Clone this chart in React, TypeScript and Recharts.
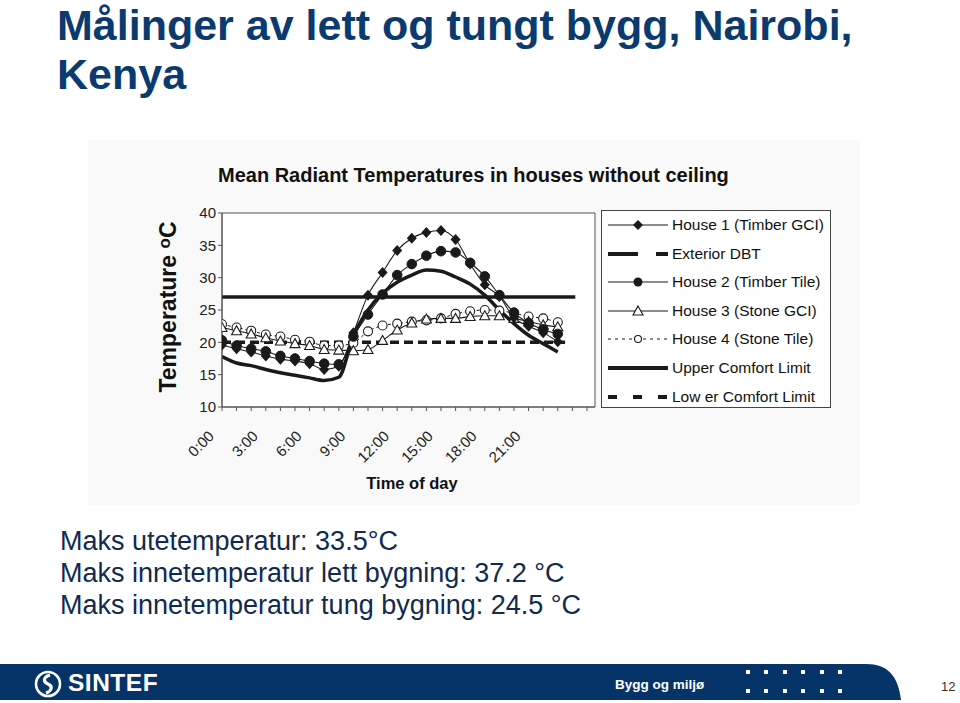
import React from 'react';
import { LineChart, Line, XAxis, YAxis, ReferenceArea } from 'recharts';

// hourly readings, 0:00 .. 23:00
const hours = [0, 1, 2, 3, 4, 5, 6, 7, 8, 9, 10, 11, 12, 13, 14, 15, 16, 17, 18, 19, 20, 21, 22, 23];
const house1 = [19.6, 19.0, 18.5, 17.9, 17.4, 17.1, 16.7, 15.8, 16.3, 21.5, 27.3, 30.8, 34.2, 36.1, 37.0, 37.3, 35.9, 32.1, 28.9, 27.1, 23.8, 22.5, 21.5, 20.1];
const house2 = [20.3, 19.5, 19.0, 18.6, 17.9, 17.5, 17.1, 16.7, 16.6, 20.9, 24.3, 27.4, 30.4, 32.1, 33.4, 34.1, 33.9, 32.3, 30.2, 27.3, 24.6, 23.0, 22.0, 21.3];
const house3 = [22.3, 21.8, 21.3, 20.7, 20.2, 19.8, 19.5, 18.9, 18.8, 18.7, 18.9, 20.3, 21.9, 23.0, 23.6, 23.7, 23.7, 24.0, 24.1, 24.1, 23.7, 23.2, 22.7, 22.4];
const house4 = [22.8, 22.3, 21.8, 21.2, 20.9, 20.4, 20.1, 19.5, 19.5, 19.9, 21.7, 22.6, 22.9, 23.2, 23.4, 23.7, 24.4, 24.8, 25.0, 24.9, 24.5, 24.0, 23.7, 23.1];
const exterior = [17.8, 16.8, 16.4, 15.8, 15.3, 14.9, 14.5, 14.1, 14.6, 21.0, 25.0, 27.6, 29.3, 30.4, 31.2, 31.0, 30.1, 29.0, 27.3, 25.0, 22.9, 21.1, 19.8, 18.5];

// comfort limits
const upperHours = [0, 24.2];
const upperValues = [27, 27];
const lowerHours = [0, 23.5];
const lowerValues = [20, 20];

const xTickHours = [0, 1, 2, 3, 4, 5, 6, 7, 8, 9, 10, 11, 12, 13, 14, 15, 16, 17, 18, 19, 20, 21, 22, 23, 24, 25];
const xLabelHours = [0, 3, 6, 9, 12, 15, 18, 21];
const xLabels = ['0:00', '3:00', '6:00', '9:00', '12:00', '15:00', '18:00', '21:00'];
const yTicks = [10, 15, 20, 25, 30, 35, 40];

const legendItems = [
  'House 1 (Timber GCI)',
  'Exterior DBT',
  'House 2 (Timber Tile)',
  'House 3 (Stone GCI)',
  'House 4 (Stone Tile)',
  'Upper Comfort Limit',
  'Low er Comfort Limit',
];

const data = hours.map((t, i) => ({
  t,
  h1: house1[i],
  h2: house2[i],
  h3: house3[i],
  h4: house4[i],
  ext: exterior[i],
}));
const upperData = upperHours.map((t, i) => ({ t, v: upperValues[i] }));
const lowerData = lowerHours.map((t, i) => ({ t, v: lowerValues[i] }));

const FONT = '"Liberation Sans", Arial, Helvetica, sans-serif';
const INK = '#1a1a1a';
const NAVY = '#0b3a6e';

const Diamond = (props: any) => {
  const { cx, cy, index } = props;
  if (cx == null || cy == null) return <g key={`d${index}`} />;
  return (
    <path
      key={`d${index}`}
      d={`M${cx},${cy - 5.5}L${cx + 5},${cy}L${cx},${cy + 5.5}L${cx - 5},${cy}Z`}
      fill={INK}
    />
  );
};

const Triangle = (props: any) => {
  const { cx, cy, index } = props;
  if (cx == null || cy == null) return <g key={`t${index}`} />;
  return (
    <path
      key={`t${index}`}
      d={`M${cx},${cy - 5}L${cx + 5},${cy + 4}L${cx - 5},${cy + 4}Z`}
      fill="#fff"
      stroke={INK}
      strokeWidth={1.1}
    />
  );
};

const XTick = (props: any) => {
  const { x, y, payload } = props;
  const idx = xLabelHours.indexOf(payload.value);
  if (idx < 0) return <g />;
  const px = x - 7;
  const py = y + 24;
  return (
    <text
      x={px}
      y={py}
      transform={`rotate(-45 ${px} ${py})`}
      textAnchor="end"
      fill="#222"
      fontSize={15}
      fontFamily={FONT}
    >
      {xLabels[idx]}
    </text>
  );
};

const LegendSample = ({ i }: { i: number }) => {
  const y = 8;
  return (
    <svg width={64} height={16} style={{ display: 'block' }}>
      {i === 0 && (
        <>
          <line x1={2} x2={62} y1={y} y2={y} stroke={INK} strokeWidth={1.2} />
          <path d={`M32,${y - 5}L37,${y}L32,${y + 5}L27,${y}Z`} fill={INK} />
        </>
      )}
      {i === 1 && (
        <>
          <line x1={2} x2={32} y1={y} y2={y} stroke={INK} strokeWidth={4} />
          <line x1={50} x2={62} y1={y} y2={y} stroke={INK} strokeWidth={4} />
        </>
      )}
      {i === 2 && (
        <>
          <line x1={2} x2={62} y1={y} y2={y} stroke={INK} strokeWidth={1.2} />
          <circle cx={32} cy={y} r={4.5} fill={INK} />
        </>
      )}
      {i === 3 && (
        <>
          <line x1={2} x2={62} y1={y} y2={y} stroke={INK} strokeWidth={1.2} />
          <path d={`M32,${y - 5}L37,${y + 4}L27,${y + 4}Z`} fill="#fff" stroke={INK} strokeWidth={1.1} />
        </>
      )}
      {i === 4 && (
        <>
          <line x1={2} x2={62} y1={y} y2={y} stroke={INK} strokeWidth={1} strokeDasharray="3 4" />
          <circle cx={32} cy={y} r={3.5} fill="#fff" stroke={INK} strokeWidth={1.1} />
        </>
      )}
      {i === 5 && <line x1={2} x2={62} y1={y} y2={y} stroke={INK} strokeWidth={4} />}
      {i === 6 && (
        <line x1={2} x2={62} y1={y} y2={y} stroke={INK} strokeWidth={4} strokeDasharray="9 16" />
      )}
    </svg>
  );
};

const SintefLogo = () => (
  <svg width={30} height={30} viewBox="0 0 30 30" style={{ position: 'absolute', left: 33, top: 669 }}>
    <circle cx={15} cy={15} r={12} fill="none" stroke="#fff" strokeWidth={2.6} />
    <path d="M17,6 C10,8 10,13 15,15 C20,17 19,22 13,24" fill="none" stroke="#fff" strokeWidth={3.2} />
  </svg>
);

export default function App() {
  const dotsX = [748, 766, 785, 803, 822, 840];
  const headingStyle: React.CSSProperties = {
    position: 'absolute',
    left: 57,
    fontSize: 43,
    fontWeight: 'bold',
    lineHeight: '50px',
    color: NAVY,
    whiteSpace: 'nowrap',
  };
  return (
    <div
      style={{
        position: 'absolute',
        left: 0,
        top: 0,
        width: 960,
        height: 703,
        background: '#fff',
        fontFamily: FONT,
        overflow: 'hidden',
      }}
    >
      {/* slide heading */}
      <div style={{ ...headingStyle, top: 0 }}>Målinger av lett og tungt bygg, Nairobi,</div>
      <div style={{ ...headingStyle, top: 49 }}>Kenya</div>

      {/* chart picture */}
      <div
        style={{
          position: 'absolute',
          left: 88,
          top: 140,
          width: 772,
          height: 365,
          background: '#f9f9f9',
        }}
      >
        <LineChart
          width={772}
          height={365}
          data={data}
          margin={{ top: 73, right: 265, bottom: 58, left: 94 }}
        >
          <XAxis
            dataKey="t"
            type="number"
            domain={[0, 25.55]}
            ticks={xTickHours}
            interval={0}
            height={40}
            tick={<XTick />}
            tickSize={4}
            stroke="#555"
            allowDataOverflow
          />
          <YAxis
            type="number"
            domain={[10, 40]}
            ticks={yTicks}
            width={40}
            tickSize={4}
            stroke="#555"
            tick={{ fill: '#222', fontSize: 15, fontFamily: FONT }}
          />
          <ReferenceArea x1={0} x2={25.55} y1={10} y2={40} fill="#fff" fillOpacity={1} stroke="#555" strokeWidth={1} />
          <Line data={upperData} dataKey="v" stroke={INK} strokeWidth={3.5} dot={false} isAnimationActive={false} />
          <Line
            data={lowerData}
            dataKey="v"
            stroke={INK}
            strokeWidth={3.5}
            strokeDasharray="9 5"
            dot={false}
            isAnimationActive={false}
          />
          <Line type="monotone" dataKey="ext" stroke={INK} strokeWidth={3.5} dot={false} isAnimationActive={false} />
          <Line
            type="monotone"
            dataKey="h4"
            stroke={INK}
            strokeWidth={1}
            strokeDasharray="3 3"
            dot={{ r: 4.5, fill: '#fff', stroke: INK, strokeWidth: 1.1, strokeDasharray: '' }}
            isAnimationActive={false}
          />
          <Line
            type="monotone"
            dataKey="h3"
            stroke={INK}
            strokeWidth={1.1}
            dot={Triangle}
            isAnimationActive={false}
          />
          <Line
            type="monotone"
            dataKey="h1"
            stroke={INK}
            strokeWidth={1.1}
            dot={Diamond}
            isAnimationActive={false}
          />
          <Line
            type="monotone"
            dataKey="h2"
            stroke={INK}
            strokeWidth={1.1}
            dot={{ r: 4.8, fill: INK, stroke: INK, strokeWidth: 1 }}
            isAnimationActive={false}
          />
        </LineChart>

        <div
          style={{
            position: 'absolute',
            left: 130,
            top: 24,
            fontSize: 20,
            fontWeight: 'bold',
            color: '#111',
            whiteSpace: 'nowrap',
          }}
        >
          Mean Radiant Temperatures in houses without ceiling
        </div>
        <div
          style={{
            position: 'absolute',
            left: 77 - 100,
            top: 167 - 14,
            width: 200,
            height: 28,
            lineHeight: '28px',
            textAlign: 'center',
            transform: 'rotate(-90deg)',
            fontSize: 23,
            fontWeight: 'bold',
            color: '#111',
            whiteSpace: 'nowrap',
          }}
        >
          Temperature <sup style={{ fontSize: 17, verticalAlign: '6px' }}>o</sup>C
        </div>
        <div
          style={{
            position: 'absolute',
            left: 324 - 80,
            top: 334,
            width: 160,
            textAlign: 'center',
            fontSize: 16.5,
            fontWeight: 'bold',
            color: '#111',
          }}
        >
          Time of day
        </div>

        {/* legend */}
        <div
          style={{
            position: 'absolute',
            left: 513,
            top: 70,
            width: 230,
            height: 198,
            border: '1.5px solid #444',
            background: '#fff',
            boxSizing: 'border-box',
          }}
        >
          {legendItems.map((label, i) => (
            <div
              key={label}
              style={{
                position: 'absolute',
                left: 4,
                top: 4 + i * 28.6,
                height: 20,
                display: 'flex',
                alignItems: 'center',
              }}
            >
              <LegendSample i={i} />
              <span style={{ fontSize: 15.5, color: '#111', marginLeft: 2, whiteSpace: 'nowrap' }}>{label}</span>
            </div>
          ))}
        </div>
      </div>

      {/* notes below chart */}
      <div
        style={{
          position: 'absolute',
          left: 60,
          top: 525,
          fontSize: 27,
          lineHeight: '32px',
          color: '#102a50',
        }}
      >
        <div>Maks utetemperatur: 33.5°C</div>
        <div>Maks innetemperatur lett bygning: 37.2 °C</div>
        <div>Maks innetemperatur tung bygning: 24.5 °C</div>
      </div>

      {/* footer */}
      <svg width={960} height={703} style={{ position: 'absolute', left: 0, top: 0, pointerEvents: 'none' }}>
        <path d="M0,664 L866,664 C888,664 898,676 901,700 L0,700 Z" fill="#063468" />
        {dotsX.map((x) => (
          <g key={x}>
            <rect x={x - 2} y={670} width={4} height={4} fill="#fff" />
            <rect x={x - 2} y={689} width={4} height={4} fill="#fff" />
          </g>
        ))}
      </svg>
      <SintefLogo />
      <div
        style={{
          position: 'absolute',
          left: 68,
          top: 669,
          fontSize: 24.5,
          fontWeight: 'bold',
          color: '#fff',
          letterSpacing: 0.5,
        }}
      >
        SINTEF
      </div>
      <div style={{ position: 'absolute', left: 615, top: 677, fontSize: 13.5, fontWeight: 'bold', color: '#fff' }}>
        Bygg og miljø
      </div>
      <div style={{ position: 'absolute', left: 941, top: 679, fontSize: 13, color: '#333' }}>12</div>
    </div>
  );
}
